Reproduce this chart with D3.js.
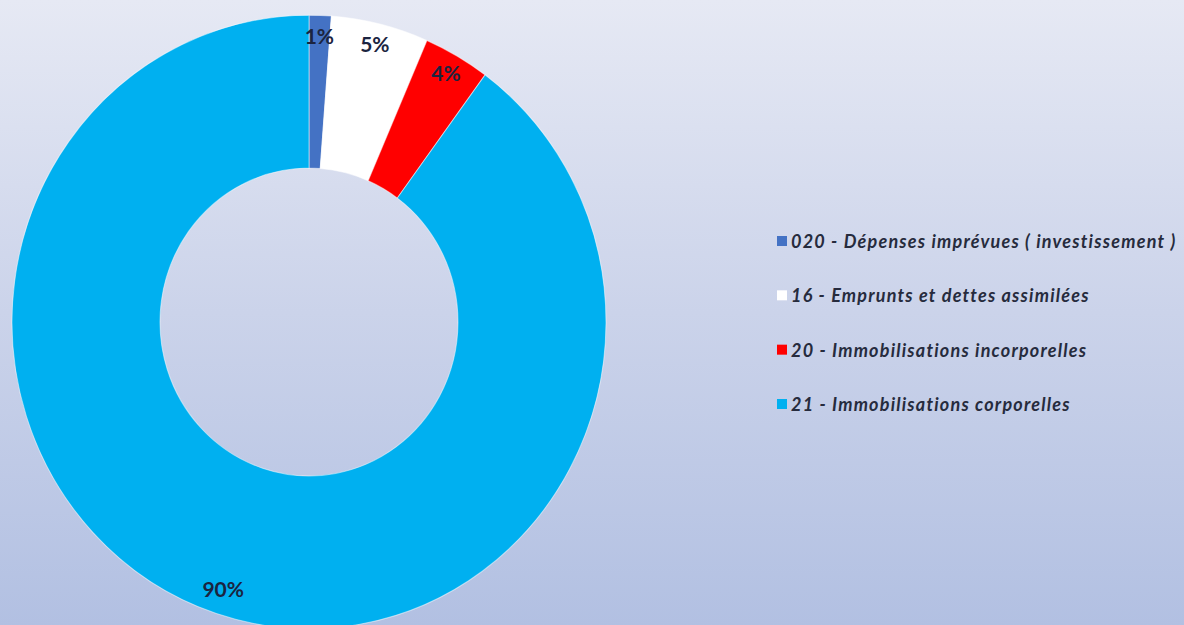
<!DOCTYPE html>
<html>
<head>
<meta charset="utf-8">
<script src="https://cdn.jsdelivr.net/npm/d3@7"></script>
<style>
  html, body { margin: 0; padding: 0; }
  body { width: 1184px; height: 625px; overflow: hidden; }
</style>
</head>
<body>
<svg id="chart" width="1184" height="625"></svg>
<script>
// chart data
const categories = [
    '020 - Dépenses imprévues ( investissement )',
    '16 - Emprunts et dettes assimilées',
    '20 - Immobilisations incorporelles',
    '21 - Immobilisations corporelles'
];
const shares = [1.2, 5.3, 3.6, 89.9];
const colors = ['#4472C4', '#FFFFFF', '#FF0000', '#00B0F0'];

const width = 1184, height = 625;
const cx = 309, cy = 322;
const outerR = 297, innerR = 149;
const labelR = 275;
const stretchY = 1.033;

const svg = d3.select('#chart');

// background gradient
const defs = svg.append('defs');
const grad = defs.append('linearGradient')
    .attr('id', 'bg')
    .attr('x1', 0).attr('y1', 0).attr('x2', 0).attr('y2', 1);
grad.append('stop').attr('offset', '0%').attr('stop-color', '#e6e9f4');
grad.append('stop').attr('offset', '50%').attr('stop-color', '#cbd3ea');
grad.append('stop').attr('offset', '100%').attr('stop-color', '#b2c0e2');

svg.append('rect')
    .attr('width', width)
    .attr('height', height)
    .attr('fill', 'url(#bg)');

const pie = d3.pie().sort(null).value(d => d);
const arcs = pie(shares);

const arc = d3.arc().innerRadius(innerR).outerRadius(outerR);
const labelArc = d3.arc().innerRadius(labelR).outerRadius(labelR);

const donut = svg.append('g')
    .attr('transform', `translate(${cx},${cy}) scale(1,${stretchY})`);

donut.selectAll('path')
    .data(arcs)
    .join('path')
    .attr('d', arc)
    .attr('fill', (d, i) => colors[i])
    .attr('stroke', 'rgba(255,255,255,0.5)')
    .attr('stroke-width', 1);

// percent labels
svg.append('g')
    .selectAll('text')
    .data(arcs)
    .join('text')
    .attr('x', d => cx + labelArc.centroid(d)[0])
    .attr('y', d => cy + labelArc.centroid(d)[1] * stretchY - 3)
    .attr('text-anchor', 'middle')
    .attr('dominant-baseline', 'central')
    .attr('font-family', 'Lato, "Open Sans", sans-serif')
    .attr('font-weight', 'bold')
    .attr('font-size', 21)
    .attr('fill', '#1b2440')
    .text(d => Math.round(d.data) + '%');

// legend
const legendY = d3.scalePoint()
    .domain(categories)
    .range([241, 404]);

const legend = svg.append('g')
    .selectAll('g')
    .data(categories)
    .join('g')
    .attr('transform', d => `translate(777,${legendY(d)})`);

legend.append('rect')
    .attr('x', 0)
    .attr('y', -5)
    .attr('width', 10)
    .attr('height', 10)
    .attr('fill', (d, i) => colors[i]);

legend.append('text')
    .attr('x', 14)
    .attr('y', 0)
    .attr('dominant-baseline', 'central')
    .attr('font-family', 'Lato, "Open Sans", sans-serif')
    .attr('font-weight', 'bold')
    .attr('font-style', 'italic')
    .attr('font-size', 18)
    .attr('letter-spacing', 1.2)
    .attr('fill', '#262b3d')
    .text(d => d);
</script>
</body>
</html>
